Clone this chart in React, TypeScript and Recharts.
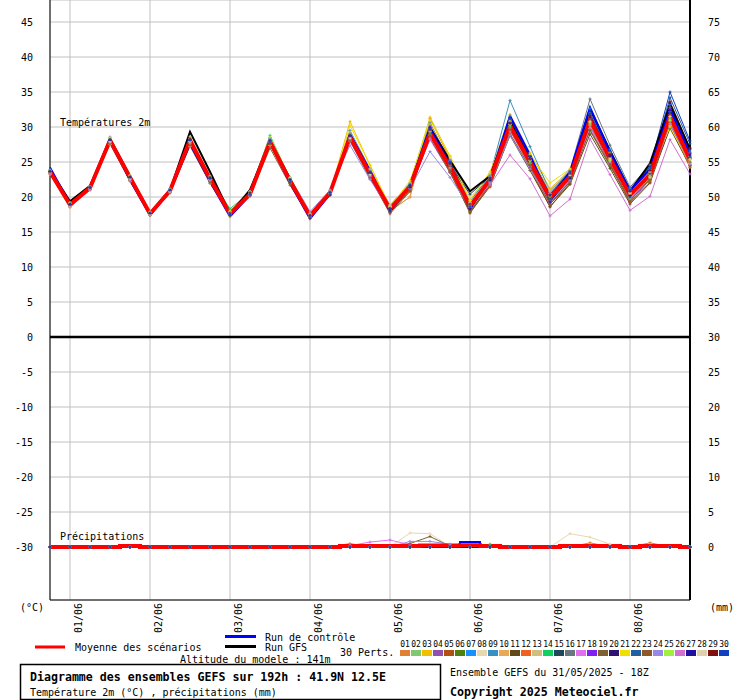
import React from 'react';
import { LineChart, Line, XAxis, YAxis, CartesianGrid, ReferenceLine } from 'recharts';

// GEFS 31/05/2025 18Z, 6-hourly steps over 192h (33 steps)
const DAY_TICKS = [1, 5, 9, 13, 17, 21, 25, 29];
const DAY_LABELS = ['01/06', '02/06', '03/06', '04/06', '05/06', '06/06', '07/06', '08/06'];
const TEMP_TICKS = [45, 40, 35, 30, 25, 20, 15, 10, 5, 0, -5, -10, -15, -20, -25, -30];
const RAIN_TICKS = [75, 70, 65, 60, 55, 50, 45, 40, 35, 30, 25, 20, 15, 10, 5, 0];

const PERT_COLORS = [
  '#e08030', '#80c870', '#f0c000', '#9050b0', '#b05010', '#508010', '#1890ff', '#e8d8b0', '#3890c0', '#e8a858',
  '#604818', '#f06020', '#d0c080', '#10d060', '#204858', '#687880', '#e070f0', '#8020f0', '#806030', '#301070',
  '#f0e000', '#2060a0', '#905828', '#9888e8', '#a0f040', '#d070d0', '#2010a0', '#e0d0b0', '#801010', '#1040c0',
];

// temperature 2m (°C)
const T_MEAN = [23.6, 18.9, 21.3, 28.1, 22.8, 17.6, 20.9, 28.1, 22.6, 17.6, 20.4, 27.9, 22.3, 17.3, 20.6, 28.6, 23.3, 18.3, 21.5, 29.1, 24.3, 18.7, 22.5, 30.2, 25.0, 19.9, 22.9, 31.0, 25.5, 20.3, 23.2, 31.5, 25.3];
const T_CONTROL = [24.2, 19.0, 21.2, 28.0, 22.4, 17.4, 20.8, 27.6, 22.2, 17.2, 20.3, 27.8, 22.0, 16.9, 20.4, 29.0, 23.8, 18.0, 21.7, 29.8, 24.6, 18.3, 22.6, 31.6, 26.0, 19.6, 23.6, 32.8, 26.4, 20.9, 24.0, 32.6, 26.2];
const T_GFS = [23.8, 19.4, 21.6, 28.3, 23.0, 17.6, 21.0, 29.3, 23.6, 17.6, 21.0, 28.0, 22.6, 17.2, 20.5, 28.8, 23.6, 18.0, 21.5, 29.9, 25.2, 20.8, 23.0, 30.8, 25.4, 20.0, 23.4, 32.6, 26.6, 20.8, 24.8, 33.2, 26.8];
const T_PERTS = [
  [23.4, 18.7, 21.0, 27.8, 22.5, 17.4, 20.7, 27.6, 22.3, 17.2, 20.1, 27.4, 22.0, 16.9, 20.3, 28.3, 23.0, 18.0, 20.0, 31.2, 25.4, 18.4, 21.8, 30.5, 25.3, 19.4, 22.2, 31.3, 25.8, 19.5, 22.6, 31.0, 24.6],
  [23.8, 19.1, 21.4, 28.6, 23.0, 17.8, 21.1, 28.3, 22.8, 17.9, 20.6, 28.5, 22.6, 17.5, 20.8, 28.2, 23.0, 18.5, 21.8, 28.8, 24.0, 19.0, 22.8, 30.0, 24.8, 20.2, 23.1, 30.6, 25.2, 20.6, 23.5, 30.4, 25.8],
  [23.3, 18.6, 21.2, 28.4, 22.9, 17.5, 20.8, 27.9, 22.4, 17.3, 20.2, 28.1, 22.4, 17.0, 20.5, 30.8, 24.5, 18.6, 21.9, 31.4, 25.8, 19.3, 23.3, 31.8, 26.3, 21.2, 23.8, 31.9, 26.4, 21.0, 23.9, 30.8, 25.0],
  [23.5, 18.8, 21.3, 28.2, 22.7, 17.6, 20.9, 28.0, 22.5, 17.5, 20.4, 27.8, 22.2, 17.2, 20.5, 28.9, 23.5, 18.1, 21.3, 29.8, 24.8, 18.2, 22.2, 30.8, 25.4, 19.0, 22.3, 30.3, 24.9, 19.2, 22.5, 32.5, 26.3],
  [23.6, 18.9, 21.2, 28.0, 22.7, 17.6, 20.9, 27.9, 22.3, 17.5, 20.3, 27.7, 22.1, 17.1, 20.4, 28.4, 23.1, 18.2, 21.4, 28.6, 23.6, 18.0, 21.7, 29.0, 24.1, 18.6, 22.0, 30.0, 24.5, 19.4, 23.0, 31.8, 25.6],
  [23.7, 18.9, 21.3, 27.9, 22.6, 17.7, 21.0, 27.6, 22.0, 17.6, 20.3, 27.5, 22.0, 17.4, 20.7, 28.5, 23.2, 18.6, 21.6, 29.2, 24.4, 18.8, 22.4, 29.8, 24.6, 19.7, 22.6, 29.5, 24.4, 19.8, 22.4, 29.8, 24.5],
  [23.9, 19.0, 21.5, 28.3, 23.0, 17.8, 21.2, 28.4, 22.9, 17.8, 20.7, 28.3, 22.7, 17.6, 20.9, 29.0, 23.7, 18.5, 21.8, 30.3, 25.2, 19.4, 23.0, 31.6, 26.0, 20.6, 23.5, 32.6, 26.8, 21.2, 24.2, 33.2, 26.7],
  [23.4, 18.6, 21.0, 27.5, 22.2, 17.4, 20.6, 27.2, 21.9, 17.3, 20.1, 27.4, 22.0, 17.0, 20.3, 28.0, 23.0, 18.9, 22.0, 29.6, 25.6, 20.0, 23.0, 29.0, 24.3, 20.2, 23.0, 29.8, 24.8, 20.0, 22.9, 30.2, 24.8],
  [23.6, 18.8, 21.3, 28.1, 22.8, 17.6, 20.8, 28.1, 22.6, 17.6, 20.5, 28.2, 22.5, 17.4, 20.8, 29.5, 24.0, 18.8, 22.0, 30.6, 25.0, 19.2, 23.1, 33.8, 27.2, 20.8, 23.7, 32.0, 26.2, 20.8, 23.6, 32.2, 25.8],
  [23.2, 18.5, 21.1, 27.6, 22.4, 17.4, 20.6, 27.7, 22.4, 17.6, 20.5, 28.0, 22.3, 17.2, 20.5, 28.5, 23.1, 18.0, 20.0, 30.4, 25.0, 18.6, 22.3, 30.6, 25.7, 20.8, 23.6, 31.5, 25.5, 20.4, 23.0, 31.2, 24.9],
  [23.5, 18.7, 21.2, 27.9, 22.6, 17.5, 20.8, 27.8, 22.2, 17.4, 20.2, 27.6, 22.0, 17.1, 20.3, 28.3, 23.0, 17.8, 21.0, 28.5, 23.6, 17.7, 21.6, 28.8, 23.8, 18.6, 21.8, 29.0, 24.1, 19.0, 22.0, 30.0, 24.3],
  [23.7, 19.0, 21.4, 28.2, 22.9, 17.7, 21.0, 28.2, 22.7, 17.7, 20.5, 28.0, 22.4, 17.4, 20.6, 28.7, 23.4, 18.4, 20.8, 28.9, 24.0, 19.0, 21.4, 29.8, 24.8, 20.5, 22.8, 30.5, 24.9, 20.8, 22.2, 30.5, 24.2],
  [23.8, 19.2, 21.5, 28.4, 23.1, 17.9, 21.1, 28.6, 23.0, 17.9, 20.8, 28.3, 22.6, 17.5, 20.9, 29.3, 24.0, 18.8, 22.0, 29.8, 24.9, 19.6, 23.4, 31.0, 25.6, 21.0, 24.0, 31.4, 25.4, 20.5, 23.2, 31.0, 24.6],
  [23.6, 18.8, 21.3, 28.0, 22.7, 17.7, 20.9, 28.0, 22.8, 18.3, 20.7, 28.8, 22.6, 17.2, 20.6, 28.4, 23.2, 18.2, 21.5, 29.0, 24.2, 18.6, 22.4, 30.1, 24.9, 19.8, 22.8, 30.8, 25.3, 20.0, 23.3, 31.3, 25.4],
  [23.5, 18.8, 21.2, 28.0, 22.6, 17.6, 20.9, 27.9, 22.4, 17.5, 20.3, 27.8, 22.2, 17.3, 20.5, 28.5, 23.2, 18.3, 21.4, 29.3, 24.6, 20.4, 22.9, 30.5, 25.3, 19.8, 23.0, 31.4, 26.0, 20.7, 24.5, 32.0, 25.6],
  [23.6, 18.9, 21.3, 28.0, 22.7, 17.6, 20.9, 28.0, 22.5, 17.6, 20.4, 27.8, 22.3, 17.3, 20.7, 28.7, 23.4, 18.4, 21.6, 29.4, 24.5, 18.9, 22.7, 31.0, 25.7, 20.4, 23.8, 34.0, 27.4, 21.4, 24.6, 32.8, 26.4],
  [23.4, 18.7, 21.1, 28.5, 22.9, 17.6, 20.8, 27.9, 22.5, 17.6, 20.4, 28.2, 22.5, 17.6, 20.9, 28.0, 22.6, 18.2, 21.3, 28.2, 23.5, 18.6, 22.0, 29.4, 24.4, 19.3, 22.2, 29.8, 24.6, 19.6, 22.7, 30.2, 24.7],
  [23.7, 19.0, 21.4, 28.2, 22.8, 17.6, 20.9, 28.1, 22.6, 17.5, 20.3, 27.9, 22.3, 17.2, 20.5, 28.6, 23.4, 18.2, 21.6, 30.0, 25.0, 18.8, 22.6, 31.2, 25.6, 20.0, 23.2, 31.6, 26.0, 20.6, 23.4, 32.6, 26.2],
  [23.6, 18.8, 21.2, 27.6, 22.3, 17.4, 20.6, 27.3, 22.0, 17.4, 20.2, 27.0, 21.7, 17.0, 20.3, 28.0, 22.7, 17.8, 21.0, 28.4, 23.5, 17.9, 21.8, 29.6, 24.5, 19.0, 22.2, 30.4, 24.8, 19.5, 22.6, 30.6, 24.5],
  [23.5, 18.8, 21.2, 28.1, 22.8, 17.6, 20.9, 28.2, 22.7, 17.6, 20.4, 28.0, 22.3, 17.3, 20.6, 28.8, 23.5, 18.3, 21.7, 29.9, 24.9, 18.4, 22.6, 31.3, 25.8, 19.4, 23.0, 31.9, 26.0, 20.2, 23.6, 33.4, 26.9],
  [23.6, 18.9, 21.3, 28.2, 22.9, 17.7, 21.0, 28.0, 22.5, 17.5, 20.5, 27.8, 22.2, 17.1, 20.4, 30.2, 24.6, 18.6, 22.3, 31.0, 25.9, 19.5, 23.6, 30.8, 26.1, 22.0, 24.0, 30.3, 25.6, 20.6, 23.4, 30.0, 24.8],
  [23.7, 18.9, 21.4, 28.1, 22.7, 17.6, 20.9, 28.1, 22.6, 17.5, 20.4, 27.9, 22.4, 17.3, 20.6, 28.5, 23.2, 18.0, 21.3, 29.4, 24.5, 18.6, 22.5, 30.4, 25.3, 20.0, 23.1, 31.8, 26.0, 20.9, 24.0, 34.2, 27.6],
  [23.4, 18.7, 21.1, 27.7, 22.4, 17.5, 20.7, 27.6, 22.2, 17.4, 20.2, 27.5, 22.0, 17.2, 20.4, 28.2, 22.8, 17.6, 20.8, 28.8, 23.8, 17.8, 21.5, 29.0, 24.2, 19.0, 21.9, 29.6, 24.6, 19.2, 22.1, 30.8, 25.0],
  [23.5, 18.8, 21.2, 28.0, 22.7, 17.6, 20.9, 28.0, 22.6, 17.8, 20.8, 28.4, 22.8, 17.9, 21.0, 27.4, 22.5, 18.0, 21.2, 26.5, 22.8, 18.5, 22.0, 28.8, 24.0, 19.4, 22.4, 30.2, 25.0, 19.8, 22.8, 30.5, 24.7],
  [23.8, 19.1, 21.4, 28.4, 23.0, 17.8, 21.1, 28.3, 22.8, 18.0, 20.7, 28.6, 22.8, 17.6, 20.8, 28.9, 23.6, 18.6, 21.8, 29.4, 24.5, 19.0, 22.6, 30.4, 25.2, 20.1, 23.1, 30.6, 25.2, 19.9, 22.8, 30.9, 25.3],
  [23.3, 18.6, 21.0, 27.8, 22.4, 17.5, 20.7, 27.7, 22.3, 17.5, 20.2, 27.8, 22.3, 17.4, 20.5, 28.4, 23.0, 18.5, 21.6, 28.4, 24.2, 18.8, 21.7, 26.0, 22.6, 17.3, 19.7, 28.3, 23.2, 18.1, 20.1, 28.2, 23.3],
  [23.6, 18.9, 21.3, 28.1, 22.8, 17.6, 20.9, 28.1, 22.6, 17.4, 20.3, 27.8, 22.2, 17.0, 20.3, 28.7, 23.4, 18.0, 21.4, 29.4, 24.5, 18.3, 22.4, 30.6, 25.4, 19.3, 22.7, 31.4, 25.8, 20.0, 23.4, 32.4, 26.0],
  [23.5, 18.7, 21.2, 27.9, 22.6, 17.5, 20.8, 27.9, 22.5, 17.6, 20.4, 28.0, 22.4, 17.3, 20.6, 28.4, 23.2, 18.6, 21.8, 29.4, 24.6, 19.2, 22.9, 30.4, 25.3, 20.5, 23.4, 30.8, 25.4, 20.6, 23.6, 31.5, 25.4],
  [23.6, 18.9, 21.3, 28.2, 22.9, 17.7, 21.0, 28.3, 22.8, 17.7, 20.6, 28.1, 22.5, 17.4, 20.7, 28.8, 23.5, 18.4, 21.6, 29.6, 24.7, 19.0, 22.6, 30.5, 25.4, 20.2, 23.4, 31.6, 26.0, 20.8, 23.8, 33.6, 27.0],
  [23.7, 19.0, 21.4, 28.2, 22.8, 17.7, 21.0, 28.1, 22.6, 17.5, 20.4, 28.0, 22.4, 17.3, 20.6, 28.8, 23.6, 18.3, 21.8, 29.8, 24.9, 18.6, 22.8, 31.2, 25.8, 20.4, 23.6, 32.4, 26.6, 21.0, 24.3, 35.0, 28.0],
];

// precipitation (mm)
const DRY = [0, 0, 0, 0, 0, 0, 0, 0, 0, 0, 0, 0, 0, 0, 0, 0, 0, 0, 0, 0, 0, 0, 0, 0, 0, 0, 0, 0, 0, 0, 0, 0, 0];
const RR_MEAN = [0, 0, 0, 0, 0.15, 0, 0, 0, 0, 0, 0, 0, 0, 0, 0, 0.15, 0.15, 0.15, 0.15, 0.2, 0.2, 0.25, 0.15, 0, 0, 0, 0.15, 0.15, 0.15, 0, 0.15, 0.15, 0];
const RR_CONTROL = [0, 0, 0, 0, 0, 0, 0, 0, 0, 0, 0, 0, 0, 0, 0, 0, 0, 0, 0, 0, 0, 0.7, 0, 0, 0, 0, 0, 0, 0, 0, 0, 0, 0];
const RR_GFS = DRY;
const RR_P01 = [0, 0, 0, 0, 0, 0, 0, 0, 0, 0, 0, 0, 0, 0, 0, 0.5, 0, 0, 0, 0, 0, 0, 0, 0, 0, 0, 0, 0.6, 0, 0, 0.6, 0, 0];
const RR_P08 = [0, 0, 0, 0, 0, 0, 0, 0, 0, 0, 0, 0, 0, 0, 0, 0, 0, 0, 2.0, 1.9, 0.1, 0, 0, 0, 0, 0, 1.9, 1.4, 0.4, 0, 0, 0, 0];
const RR_P14 = [0, 0, 0, 0, 0, 0, 0, 0, 0, 0, 0, 0, 0, 0, 0, 0, 0, 0, 0, 0, 0, 0, 0.4, 0, 0, 0, 0, 0, 0, 0, 0, 0, 0];
const RR_P17 = [0, 0, 0, 0, 0, 0, 0, 0, 0, 0, 0, 0, 0, 0, 0, 0.2, 0.7, 1.0, 0.3, 0, 0, 0, 0, 0, 0, 0, 0, 0, 0, 0, 0, 0, 0];
const RR_P19 = [0, 0, 0, 0, 0, 0, 0, 0, 0, 0, 0, 0, 0, 0, 0, 0, 0, 0, 0.5, 1.5, 0.1, 0, 0, 0, 0, 0, 0, 0, 0, 0, 0, 0, 0];
const RR_P24 = [0, 0, 0, 0, 0, 0, 0, 0, 0, 0, 0, 0, 0, 0, 0, 0, 0, 0, 0.8, 0.8, 0.4, 0, 0, 0, 0, 0, 0, 0, 0, 0, 0, 0, 0];
const RR_PERTS = [
  RR_P01, DRY, DRY, DRY, DRY, DRY, DRY, RR_P08, DRY, DRY,
  DRY, DRY, DRY, RR_P14, DRY, DRY, RR_P17, DRY, RR_P19, DRY,
  DRY, DRY, DRY, RR_P24, DRY, DRY, DRY, DRY, DRY, DRY,
];

const data = T_MEAN.map((m, i) => {
  const row: Record<string, number> = { i, tMean: m, tCtl: T_CONTROL[i], tGfs: T_GFS[i], rMean: RR_MEAN[i], rCtl: RR_CONTROL[i], rGfs: RR_GFS[i] };
  T_PERTS.forEach((p, k) => { row[`t${k}`] = p[i]; });
  RR_PERTS.forEach((p, k) => { row[`r${k}`] = p[i]; });
  return row;
});

const MONO = '"DejaVu Sans Mono", "Liberation Mono", monospace';

const cross = (color: string) => (props: any) => {
  const { cx, cy, index } = props;
  if (cx == null || cy == null) return <g key={index} />;
  return <path key={index} d={`M${cx - 1.5},${cy}h3M${cx},${cy - 1.5}v3`} stroke={color} strokeWidth={1} fill="none" />;
};

const DayTick = (props: any) => {
  const { x, y, payload } = props;
  const label = DAY_LABELS[DAY_TICKS.indexOf(payload.value)];
  return (
    <text transform={`translate(${x + 12},${y}) rotate(-90)`} textAnchor="end" fontFamily={MONO} fontSize={10} fill="#000">
      {label}
    </text>
  );
};

const LeftTick = (props: any) => (
  <text x={props.x} y={props.y} textAnchor="end" dominantBaseline="central" fontFamily={MONO} fontSize={10} fill="#000">
    {props.payload.value}
  </text>
);

const RightTick = (props: any) => (
  <text x={props.x} y={props.y} textAnchor="start" dominantBaseline="central" fontFamily={MONO} fontSize={10} fill="#000">
    {props.payload.value}
  </text>
);

const txt = { fontFamily: MONO, fontSize: 10, fill: '#000' };

export default function App() {
  return (
    <div style={{ position: 'absolute', left: 0, top: 0, width: 740, height: 700, background: '#fff' }}>
      <LineChart width={740} height={700} data={data} margin={{ top: 0, right: 0, bottom: 0, left: 0 }}>
        <XAxis
          dataKey="i"
          type="number"
          domain={[0, 32]}
          ticks={DAY_TICKS}
          tick={<DayTick />}
          tickLine={false}
          tickSize={0}
          tickMargin={3}
          height={100}
          axisLine={{ stroke: '#000' }}
          interval={0}
        />
        <YAxis
          yAxisId="left"
          orientation="left"
          width={50}
          domain={[-37.571, 48.143]}
          allowDataOverflow
          ticks={TEMP_TICKS}
          tick={<LeftTick />}
          tickLine={false}
          tickSize={0}
          tickMargin={17}
          interval={0}
          axisLine={{ stroke: '#000' }}
        />
        <YAxis
          yAxisId="right"
          orientation="right"
          width={50}
          domain={[-7.571, 78.143]}
          allowDataOverflow
          ticks={RAIN_TICKS}
          tick={<RightTick />}
          tickLine={false}
          tickSize={0}
          tickMargin={18}
          interval={0}
          axisLine={{ stroke: '#000', strokeWidth: 2 }}
        />
        <CartesianGrid yAxisId="left" stroke="#c0c0c0" strokeWidth={1} />
        <ReferenceLine yAxisId="left" y={0} stroke="#000" strokeWidth={2.5} ifOverflow="hidden" />

        {T_PERTS.map((_, k) => (
          <Line key={`t${k}`} yAxisId="left" dataKey={`t${k}`} stroke={PERT_COLORS[k]} strokeWidth={1} type="linear" dot={cross(PERT_COLORS[k])} isAnimationActive={false} />
        ))}
        <Line yAxisId="left" dataKey="tGfs" stroke="#000" strokeWidth={2} type="linear" dot={false} isAnimationActive={false} />
        <Line yAxisId="left" dataKey="tCtl" stroke="#0000ff" strokeWidth={2} type="linear" dot={false} isAnimationActive={false} />
        <Line yAxisId="left" dataKey="tMean" stroke="#ff0000" strokeWidth={4} type="linear" dot={false} isAnimationActive={false} />

        {RR_PERTS.map((_, k) => (
          <Line key={`r${k}`} yAxisId="right" dataKey={`r${k}`} stroke={PERT_COLORS[k]} strokeWidth={1} type="linear" dot={cross(PERT_COLORS[k])} isAnimationActive={false} />
        ))}
        <Line yAxisId="right" dataKey="rGfs" stroke="#000" strokeWidth={2} type="step" dot={false} isAnimationActive={false} />
        <Line yAxisId="right" dataKey="rCtl" stroke="#0000ff" strokeWidth={2} type="step" dot={false} isAnimationActive={false} />
        <Line yAxisId="right" dataKey="rMean" stroke="#ff0000" strokeWidth={4} type="step" dot={false} isAnimationActive={false} />
      </LineChart>

      <svg width={740} height={700} style={{ position: 'absolute', left: 0, top: 0, pointerEvents: 'none' }}>
        <text x={60} y={122} dominantBaseline="central" {...txt}>Températures 2m</text>
        <text x={60} y={536} dominantBaseline="central" {...txt}>Précipitations</text>
        <text x={20} y={607} dominantBaseline="central" {...txt}>(°C)</text>
        <text x={710} y={607} dominantBaseline="central" {...txt}>(mm)</text>

        <line x1={35} x2={65} y1={647} y2={647} stroke="#ff0000" strokeWidth={3} />
        <text x={75} y={647} dominantBaseline="central" {...txt}>Moyenne des scénarios</text>
        <line x1={225} x2={256} y1={636.5} y2={636.5} stroke="#0000ff" strokeWidth={3} />
        <text x={265} y={637} dominantBaseline="central" {...txt}>Run de contrôle</text>
        <line x1={225} x2={256} y1={646.5} y2={646.5} stroke="#000" strokeWidth={3} />
        <text x={265} y={647} dominantBaseline="central" {...txt}>Run GFS</text>
        <text x={180} y={659} dominantBaseline="central" {...txt}>Altitude du modele : 141m</text>
        <text x={340} y={652} dominantBaseline="central" {...txt}>30 Perts.</text>
        {PERT_COLORS.map((c, k) => (
          <g key={c + k}>
            <text x={405 + 11 * k} y={644} textAnchor="middle" dominantBaseline="central" fontFamily={MONO} fontSize={8} fill="#000">
              {String(k + 1).padStart(2, '0')}
            </text>
            <rect x={400 + 11 * k} y={650} width={10} height={6} fill={c} />
          </g>
        ))}

        <rect x={20.5} y={664.5} width={420} height={35} fill="none" stroke="#000" strokeWidth={1.5} />
        <text x={30} y={677} dominantBaseline="central" fontFamily={MONO} fontSize={11.6} fontWeight="bold" fill="#000">
          Diagramme des ensembles GEFS sur 192h : 41.9N 12.5E
        </text>
        <text x={30} y={692} dominantBaseline="central" {...txt}>Température 2m (°C) , précipitations (mm)</text>
        <text x={450} y={672} dominantBaseline="central" {...txt}>Ensemble GEFS du 31/05/2025 - 18Z</text>
        <text x={450} y={692} dominantBaseline="central" fontFamily={MONO} fontSize={11.6} fontWeight="bold" fill="#000">
          Copyright 2025 Meteociel.fr
        </text>
      </svg>
    </div>
  );
}
